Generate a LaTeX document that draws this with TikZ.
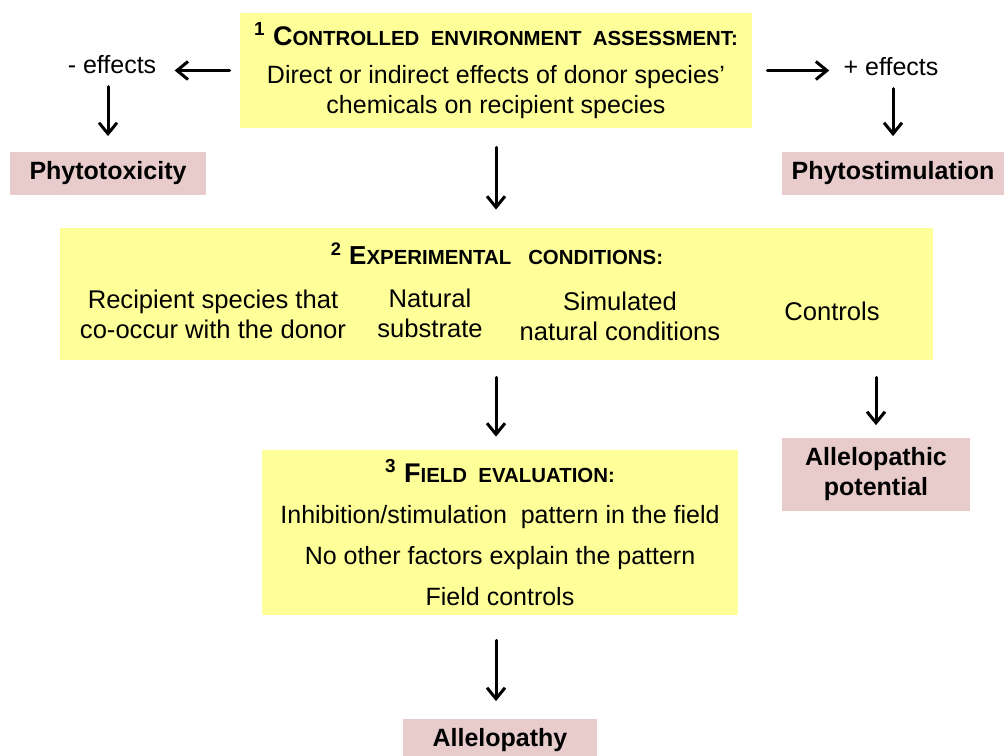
\documentclass[tikz,border=0pt]{standalone}
\usepackage{fontspec}
\setmainfont{Liberation Sans}
\usepackage{tikz}
\usetikzlibrary{arrows.meta}
\definecolor{boxyellow}{RGB}{255,255,153}
\definecolor{boxpink}{RGB}{232,203,203}
\newcommand{\fsc}[1]{{\fontsize{10.2}{11}\selectfont #1}}
\tikzset{
  ybox/.style={fill=boxyellow,inner sep=0pt,align=center,font=\fontsize{12.5}{15}\selectfont},
  pbox/.style={fill=boxpink,inner sep=0pt,align=center,font=\fontsize{12.5}{15}\selectfont\bfseries},
  plain/.style={inner sep=0pt,align=center,font=\fontsize{12.5}{15}\selectfont},
  arr/.style={-{Straight Barb[length=5.5pt,width=9pt]},line width=1.5pt}
}
\begin{document}
\begin{tikzpicture}[x=0.5pt,y=-0.5pt,line cap=round,line join=round]
\useasboundingbox (0,0) rectangle (1006,755);
\node[ybox,minimum width=256pt,minimum height=57.5pt] (assess) at (496,70.5)
  {{\bfseries\fontsize{13.5}{15}\selectfont\textsuperscript{1} C\fsc{ONTROLLED\ \ ENVIRONMENT\ \ ASSESSMENT:}}\\[4pt]
   Direct or indirect effects of donor species'\\chemicals on recipient species};
\node[plain] (minus) at (112,65) {- effects};
\node[plain] (plus) at (891,67) {+ effects};
\node[pbox,minimum width=98pt,minimum height=21.5pt] (tox) at (108,173) {Phytotoxicity};
\node[pbox,minimum width=111pt,minimum height=21.5pt] (stim) at (893,173) {Phytostimulation};
\node[ybox,minimum width=436.5pt,minimum height=66pt] (cond) at (496.5,294) {};
\node[plain,font=\fontsize{13}{15}\selectfont\bfseries] (condtitle) at (497,254)
  {\textsuperscript{2} E\fsc{XPERIMENTAL\ \ \ CONDITIONS:}};
\node[plain,font=\fontsize{12.8}{15}\selectfont] (recip) at (213,314) {Recipient species that\\co-occur with the donor};
\node[plain,font=\fontsize{12.8}{15}\selectfont] (subst) at (430,313) {Natural\\substrate};
\node[plain,font=\fontsize{12.8}{15}\selectfont] (simul) at (620,316) {Simulated\\natural conditions};
\node[plain,font=\fontsize{12.8}{15}\selectfont] (ctrl) at (832,311) {Controls};
\node[pbox,minimum width=94pt,minimum height=36.5pt] (pot) at (876,474) {Allelopathic\\potential};
\node[ybox,minimum width=238pt,minimum height=82.5pt,font=\fontsize{12.5}{20.5}\selectfont] (field) at (500,532.5)
  {{\bfseries\fontsize{13.5}{15}\selectfont\textsuperscript{3} F\fsc{IELD\ \ EVALUATION:}}\\
   Inhibition/stimulation\ \ pattern in the field\\
   No other factors explain the pattern\\
   Field controls};
\node[pbox,minimum width=97pt,minimum height=21.5pt] (allelo) at (500,740) {Allelopathy};
\draw[arr,shorten <=5pt,shorten >=9pt] (assess.west) -- (assess.west -| minus.east);
\draw[arr,shorten <=7.5pt,shorten >=7pt] (assess.east) -- (assess.east -| plus.west);
\draw[arr,shorten <=6pt,shorten >=7.5pt] (tox.north |- minus.south) -- (tox.north);
\draw[arr,shorten <=6pt,shorten >=7.5pt] (stim.north |- plus.south) -- (stim.north);
\draw[arr,shorten <=9.5pt,shorten >=9pt] (assess.south) -- (cond.north -| assess.south);
\draw[arr,shorten <=8.5pt,shorten >=6.5pt] (cond.south -| assess.south) -- (field.north -| assess.south);
\draw[arr,shorten <=8.5pt,shorten >=6pt] (cond.south -| pot.north) -- (pot.north);
\draw[arr,shorten <=12.5pt,shorten >=8.5pt] (field.south -| assess.south) -- (allelo.north -| assess.south);
\end{tikzpicture}
\end{document}
